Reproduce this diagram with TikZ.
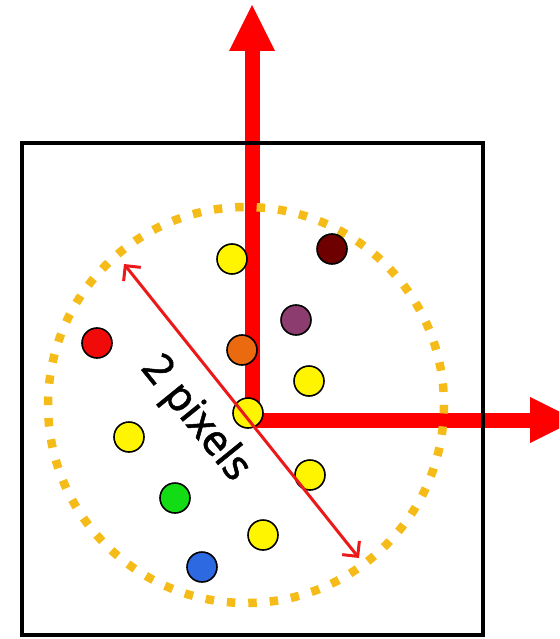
\documentclass[tikz,border=0pt]{standalone}
\usepackage{fontspec}
\setmainfont{Noto Sans}
\newfontfamily\lblfont[FakeBold=1.2]{Noto Sans}
\usetikzlibrary{arrows.meta}
\definecolor{axisred}{RGB}{255,0,0}
\definecolor{arrred}{RGB}{235,25,25}
\definecolor{gold}{RGB}{245,188,25}
\definecolor{dyellow}{RGB}{255,245,0}
\definecolor{dmaroon}{RGB}{110,0,0}
\definecolor{dpurple}{RGB}{140,60,110}
\definecolor{dred}{RGB}{240,10,10}
\definecolor{dorange}{RGB}{235,105,15}
\definecolor{dgreen}{RGB}{20,220,20}
\definecolor{dblue}{RGB}{45,105,225}
\tikzset{
  dot/.style={circle, draw=black, line width=1.6pt, minimum size=30pt, inner sep=0pt},
  axisline/.style={draw=axisred, line width=15pt, line join=miter},
  headfill/.style={fill=axisred},
}
\begin{document}
\begin{tikzpicture}[x=1pt,y=-1pt]
\useasboundingbox (0,0) rectangle (559,639);
\clip (0,0) rectangle (559,639);
% axes
\coordinate (o) at (252,420);
\coordinate (ytop) at (252,48);
\coordinate (xend) at (532,420);
\draw[axisline] (ytop) -- (o) -- (xend);
\fill[headfill] (252,5) -- (275,51) -- (229,51) -- cycle;
\fill[headfill] (576,420) -- (530,397) -- (530,443) -- cycle;
% box
\draw[line width=4pt, line join=miter] (22,143) rectangle (483,635);
% dotted circle
\draw[gold, line width=8.5pt, dash pattern=on 8.5pt off 12.95pt] (246,405) circle[radius=198];
% dots
\node[dot, fill=dyellow] (y1) at (232,259) {};
\node[dot, fill=dmaroon] (m1) at (332,249) {};
\node[dot, fill=dpurple] (p1) at (296,320) {};
\node[dot, fill=dred] (r1) at (97,343) {};
\node[dot, fill=dorange] (or1) at (242,350) {};
\node[dot, fill=dyellow] (y2) at (309,381) {};
\node[dot, fill=dyellow] (y0) at (248,413) {};
\node[dot, fill=dyellow] (y3) at (129,437) {};
\node[dot, fill=dyellow] (y4) at (310,475) {};
\node[dot, fill=dgreen] (g1) at (175,498) {};
\node[dot, fill=dyellow] (y5) at (263,535) {};
\node[dot, fill=dblue] (b1) at (202,567) {};
% diameter arrow
\coordinate (da) at (124,264);
\coordinate (db) at (359,558);
\draw[arrred, line width=3pt, {Straight Barb[length=11pt,width=22pt]}-{Straight Barb[length=11pt,width=22pt]}] (da) -- (db);
\node[rotate=-51, font=\lblfont\fontsize{42}{42}\selectfont] (lbl) at (195,419) {2 pixels};
\end{tikzpicture}
\end{document}
